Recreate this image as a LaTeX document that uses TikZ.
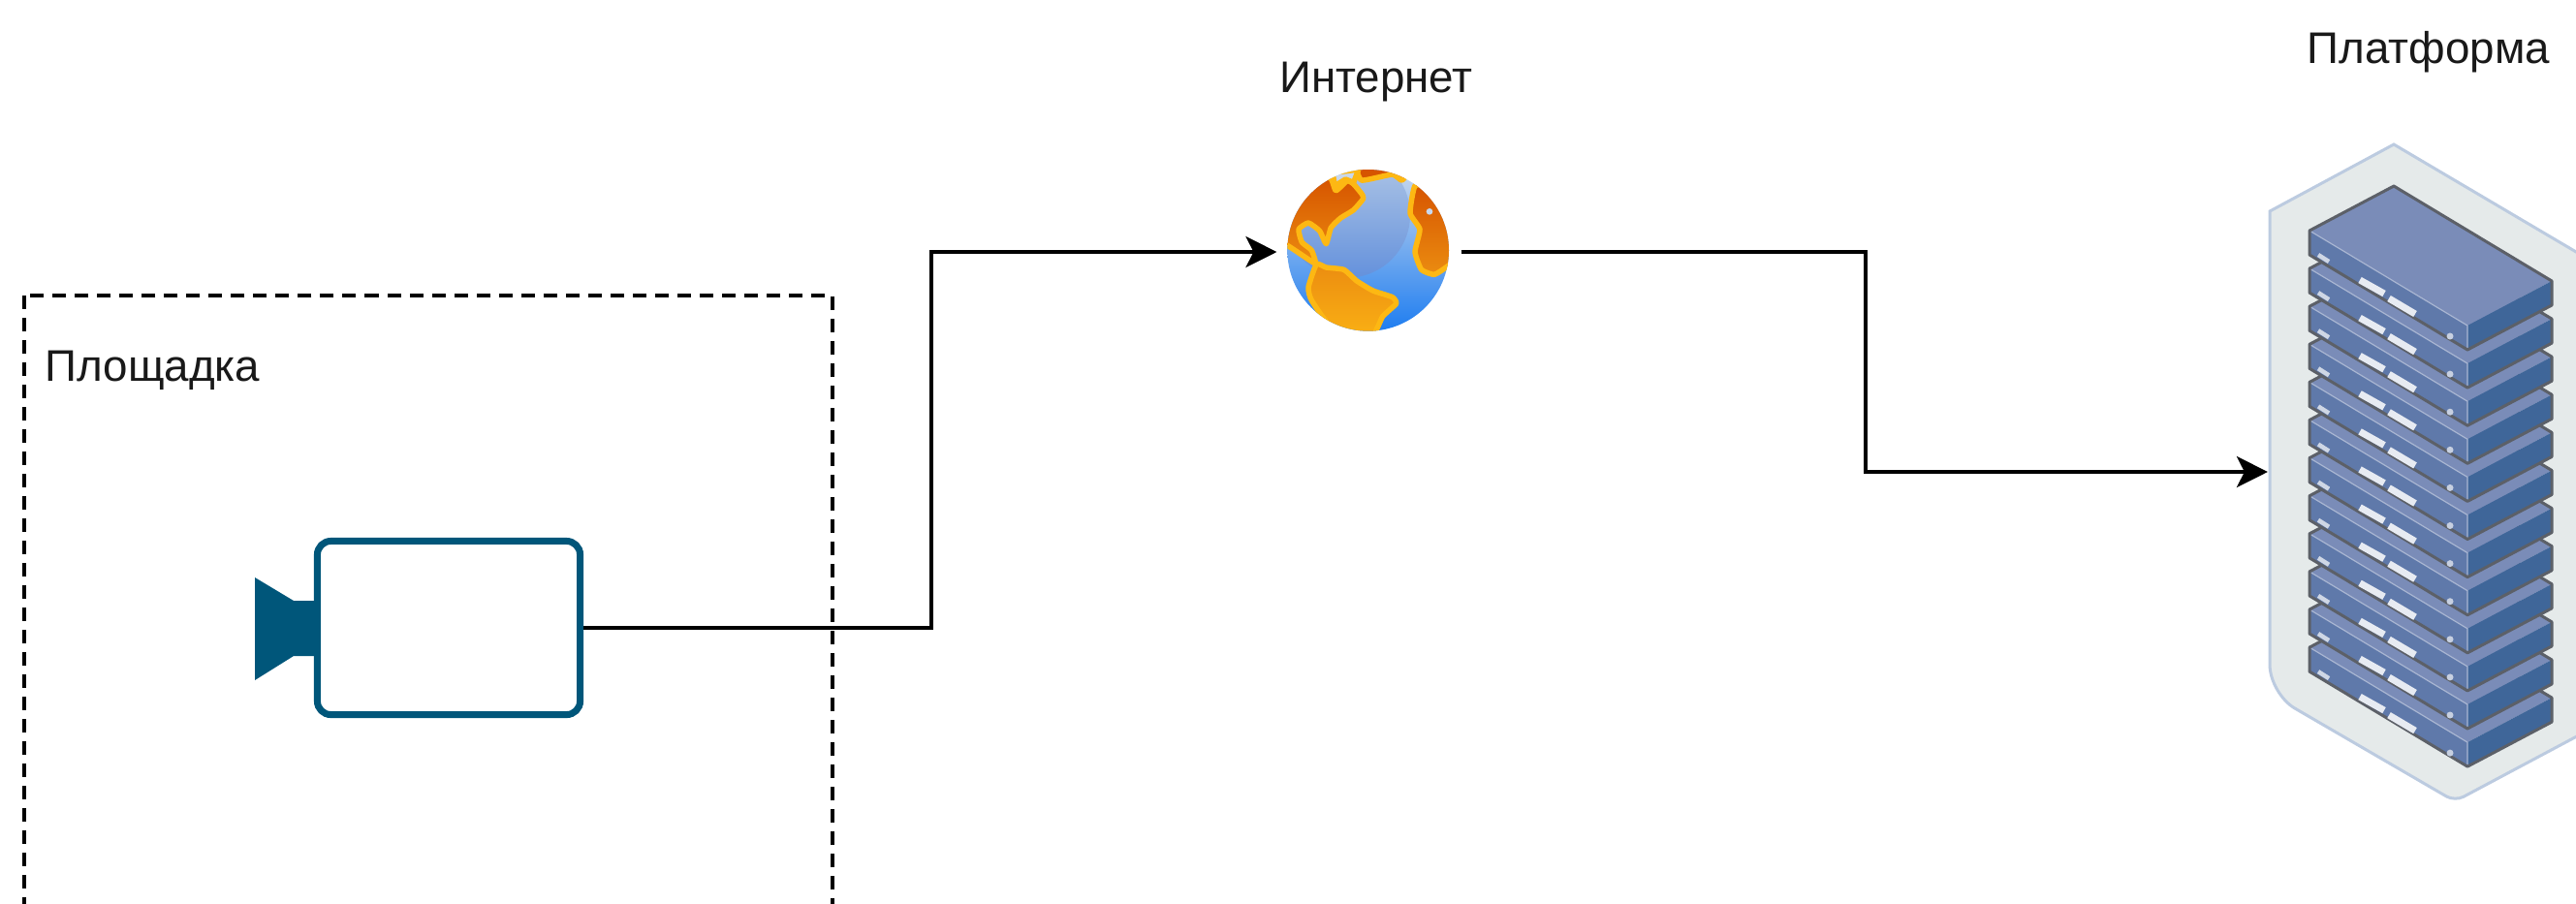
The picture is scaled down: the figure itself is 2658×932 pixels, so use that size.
\documentclass[tikz,border=0pt]{standalone}
\usepackage{fontspec}
\setmainfont{Liberation Sans}
\usetikzlibrary{arrows.meta, calc}
\definecolor{camblue}{HTML}{00567A}
\definecolor{panelfill}{HTML}{E5EAEA}
\definecolor{paneledge}{HTML}{BCCBE0}
\definecolor{srvtop}{HTML}{7A8CB8}
\definecolor{srvleft}{HTML}{5F79AA}
\definecolor{srvright}{HTML}{3F6699}
\definecolor{srvedge}{HTML}{5C6068}
\definecolor{srvlight}{HTML}{A9B6D2}
\definecolor{landedge}{HTML}{FDB813}
\definecolor{landdark}{HTML}{D65400}
\definecolor{landmid}{HTML}{EB8C10}
\definecolor{landsun}{HTML}{FAB014}
\definecolor{seatop}{HTML}{C8D8EE}
\definecolor{seabot}{HTML}{1E7DF0}
\definecolor{balltop}{HTML}{B2C8E6}
\definecolor{ballbot}{HTML}{6491DC}
\begin{document}
\begin{tikzpicture}[x=0.01cm,y=-0.01cm]
    \tikzset{>={Stealth[length=0.32cm,width=0.32cm,inset=0.08cm]}}
    \tikzset{conn/.style={->,line width=1pt,black}}
    \tikzset{sitebox/.style={line width=1pt,dash pattern=on 0.14cm off 0.09cm}}
    \tikzset{lbl/.style={font=\fontsize{13}{15}\selectfont,inner sep=0,text=black!90}}
    \tikzset{land/.style={draw=landedge,line width=0.055cm,line join=round}}
    \def\unitpitch{39.1}
    \def\unitthick{25}

    \useasboundingbox (0,0) rectangle (2658,932);
    \clip (0,0) rectangle (2658,932);

    \draw[sitebox] (25,305) rectangle (859,1000);
    \node[lbl,anchor=base west] (siteLabel) at (46,393) {Площадка};
    \node[lbl,anchor=base] (netLabel) at (1420,95) {Интернет};
    \node[lbl,anchor=base] (platLabel) at (2506,65) {Платформа};

    % camera
    \fill[camblue] (263,596) -- (303,620) -- (330,620) -- (330,677) -- (303,677) -- (263,702) -- cycle;
    \node[draw=camblue,fill=white,line width=0.07cm,rounded corners=0.14cm,inner sep=0,
        minimum width=2.71cm,minimum height=1.79cm] (camera) at (463,648) {};

    % globe
    \node[circle,inner sep=0,outer sep=0,minimum size=1.9cm] (globe) at (1412.5,260) {};
    \begin{scope}[shift={(1290,150)},scale=1/3]
        \clip (365,325) circle (250);
        \shade[top color=seatop,bottom color=seabot] (115,75) rectangle (615,575);
        \shade[top color=balltop,bottom color=ballbot] (300,215) circle (195);
        \path[land,top color=landdark,bottom color=landmid]
            plot[smooth cycle,tension=0.3] coordinates {(70,300) (115,310) (200,365) (190,325) (160,300) (150,260) (180,240) (215,265) (235,305) (250,255) (280,225) (320,200) (350,165) (345,150) (320,120) (300,110) (265,140) (245,100) (150,130)};
        \path[land,top color=landmid,bottom color=landsun]
            plot[smooth cycle,tension=0.3] coordinates {(205,368) (235,378) (290,385) (330,420) (380,450) (440,470) (452,490) (410,530) (375,590) (250,560) (190,480) (180,440)};
        \path[land,top color=landdark,bottom color=landmid]
            plot[smooth cycle,tension=0.3] coordinates {(510,125) (560,130) (640,220) (650,340) (610,375) (570,400) (530,385) (510,330) (525,260) (495,210)};
        \path[land,fill=landdark]
            plot[smooth cycle,tension=0.3] coordinates {(335,60) (345,108) (440,90) (470,108) (500,60)};
        \path[land,fill=seatop] (262,125) -- (255,85) -- (335,75) -- (320,115) -- (295,105) -- cycle;
        \fill[seatop] (555,205) circle (10);
    \end{scope}

    % rack
    \node[inner sep=0,outer sep=0,minimum width=3.18cm,minimum height=6.74cm] (rack) at (2499,487) {};
    \draw[fill=panelfill,draw=paneledge,line width=0.03cm] (2470,149) -- (2670,267) -- (2670,754)
        [rounded corners=0.1cm] -- (2533,827) [rounded corners=0.3cm] -- (2342,716)
        [sharp corners] -- (2342,218) -- cycle;
    \foreach \unit in {11,...,0} {
        \begin{scope}[shift={(2470,192+\unit*\unitpitch)}]
            \fill[srvtop] (0,0) -- (163,98) -- (76,144) -- (-87,46) -- cycle;
            \fill[srvleft] (-87,46) -- (76,144) -- (76,144+\unitthick) -- (-87,46+\unitthick) -- cycle;
            \fill[srvright] (76,144) -- (163,98) -- (163,98+\unitthick) -- (76,144+\unitthick) -- cycle;
            \draw[srvlight,line width=0.012cm] (-87,46) -- (76,144) -- (76,144+\unitthick);
            \draw[srvedge,line width=0.03cm,line join=round] (-87,46) -- (0,0) -- (163,98) -- (163,98+\unitthick)
                -- (76,144+\unitthick) -- (-87,46+\unitthick) -- cycle;
            \draw[white!85!srvleft,line width=0.07cm] (-35,97) -- (-10,111);
            \draw[white!85!srvleft,line width=0.07cm] (-5,116) -- (22,132);
            \draw[white!70!srvleft,line width=0.045cm] (-78,71) -- (-67,78);
            \fill[white!65!srvleft] (58,155) circle (3.5);
        \end{scope}
    }

    % connectors
    \coordinate (bendA) at (961,648);
    \coordinate (bendB) at (1925,260);
    \draw[conn] (camera.east) -- (bendA) |- (globe.west);
    \draw[conn] (globe.east) -- (bendB) |- (rack.west);
\end{tikzpicture}
\end{document}
